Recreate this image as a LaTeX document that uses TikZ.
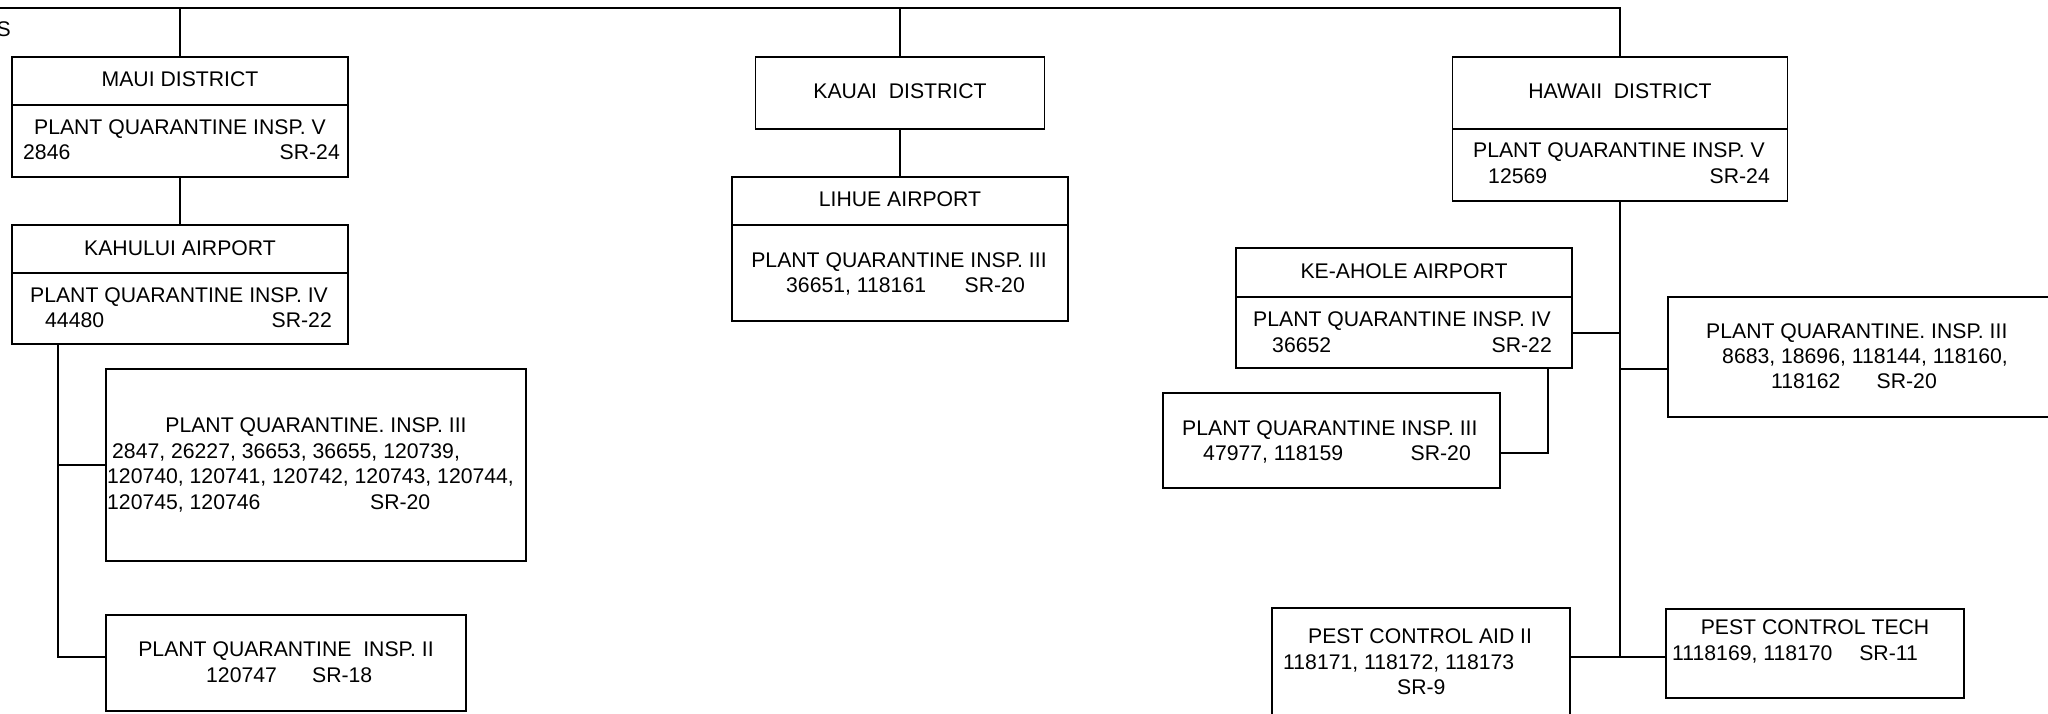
\documentclass[tikz,border=0pt]{standalone}
\usepackage{fontspec}
\setmainfont{Liberation Sans}
\begin{document}
\begin{tikzpicture}[x=1pt,y=-1pt,
  ln/.style={line width=1.8pt},
  rbox/.style={draw, line width=1.8pt, rectangle, inner sep=0pt},
  txt/.style={inner sep=0pt, font=\fontsize{21.2}{25.5}\selectfont}]
\useasboundingbox (0,0) rectangle (2048,714);
\clip (0,0) rectangle (2048,714);

% ---- boxes ----
\node[rbox, minimum width=336, minimum height=48] (mauiH) at (180,81) {};
\node[rbox, minimum width=336, minimum height=72] (mauiB) at (180,141) {};
\node[rbox, minimum width=336, minimum height=48] (kahH) at (180,249) {};
\node[rbox, minimum width=336, minimum height=71] (kahB) at (180,308.5) {};
\node[rbox, minimum width=420, minimum height=192] (pqm3) at (316,465) {};
\node[rbox, minimum width=360, minimum height=96] (pqm2) at (286,663) {};

\node[rbox, minimum width=289, minimum height=72] (kauai) at (900,93) {};
\node[rbox, minimum width=336, minimum height=48] (lihH) at (900,201) {};
\node[rbox, minimum width=336, minimum height=96] (lihB) at (900,273) {};

\node[rbox, minimum width=335, minimum height=72] (hawH) at (1620,93) {};
\node[rbox, minimum width=335, minimum height=72] (hawB) at (1620,165) {};
\node[rbox, minimum width=336, minimum height=49] (keH) at (1404,272.5) {};
\node[rbox, minimum width=336, minimum height=71] (keB) at (1404,332.5) {};
\node[rbox, minimum width=337, minimum height=95] (pqh3) at (1331.5,440.5) {};
\node[rbox, minimum width=402, minimum height=120] (pqr3) at (1869,357) {};
\node[rbox, minimum width=298, minimum height=132] (pcaid) at (1421,674) {};
\node[rbox, minimum width=298, minimum height=89] (pctech) at (1815,653.5) {};

% ---- connectors ----
\coordinate (tl) at (-20,8);
\draw[ln] (tl) -| (hawH.north);
\draw[ln] (mauiH.north |- tl) -- (mauiH.north);
\draw[ln] (kauai.north |- tl) -- (kauai.north);
\draw[ln] (mauiB.south) -- (kahH.north);
\draw[ln] (kauai.south) -- (lihH.north);

\coordinate (kb) at (58,344);
\coordinate (k2) at (106,657);
\draw[ln] (kb) |- (pqm3.west);
\draw[ln] (kb) |- (k2);

\coordinate (hb) at (1620,657);
\draw[ln] (hawB.south) -- (hb);
\coordinate (ke) at (1572,333);
\draw[ln] (ke) -- (ke -| hb);
\coordinate (r3) at (1668,369);
\draw[ln] (r3 -| hb) -- (r3);
\coordinate (kb2) at (1548,368);
\coordinate (h3) at (1500,453);
\draw[ln] (kb2) |- (h3);
\coordinate (pa) at (1570,657);
\coordinate (pt) at (1666,657);
\draw[ln] (pa) -- (pt);

% ---- texts ----
\node[txt, anchor=base east] (s) at (11,37) {S};

\node[txt, anchor=base] (t1) at (180,87) {MAUI DISTRICT};
\node[txt, anchor=base] (t2) at (180,135) {PLANT QUARANTINE INSP. V};
\node[txt, anchor=base west] (t3) at (23,160) {2846};
\node[txt, anchor=base east] (t4) at (340,160) {SR-24};

\node[txt, anchor=base] (t5) at (180,255) {KAHULUI AIRPORT};
\node[txt, anchor=base] (t6) at (179,302) {PLANT QUARANTINE INSP. IV};
\node[txt, anchor=base west] (t7) at (45,327) {44480};
\node[txt, anchor=base east] (t8) at (332,327) {SR-22};

\node[txt, anchor=base] (t9) at (316,432) {PLANT QUARANTINE. INSP. III};
\node[txt, anchor=base west] (t10) at (112,458) {2847, 26227, 36653, 36655, 120739,};
\node[txt, anchor=base west] (t11) at (107,483) {120740, 120741, 120742, 120743, 120744,};
\node[txt, anchor=base west] (t12) at (107,509) {120745, 120746};
\node[txt, anchor=base west] (t13) at (370,509) {SR-20};

\node[txt, anchor=base] (t14) at (286,656) {PLANT QUARANTINE\ \ INSP. II};
\node[txt, anchor=base west] (t15) at (206,682) {120747};
\node[txt, anchor=base west] (t16) at (312,682) {SR-18};

\node[txt, anchor=base] (t17) at (900,99) {KAUAI\ \ DISTRICT};
\node[txt, anchor=base] (t18) at (900,207) {LIHUE AIRPORT};
\node[txt, anchor=base] (t19) at (899,267) {PLANT QUARANTINE INSP. III};
\node[txt, anchor=base west] (t20) at (786,292) {36651, 118161};
\node[txt, anchor=base east] (t21) at (1025,292) {SR-20};

\node[txt, anchor=base] (t22) at (1620,99) {HAWAII\ \ DISTRICT};
\node[txt, anchor=base] (t23) at (1619,158) {PLANT QUARANTINE INSP. V};
\node[txt, anchor=base west] (t24) at (1488,184) {12569};
\node[txt, anchor=base east] (t25) at (1770,184) {SR-24};

\node[txt, anchor=base] (t26) at (1404,278) {KE-AHOLE AIRPORT};
\node[txt, anchor=base west] (t27) at (1253,326) {PLANT QUARANTINE INSP. IV};
\node[txt, anchor=base west] (t28) at (1272,352) {36652};
\node[txt, anchor=base east] (t29) at (1552,352) {SR-22};

\node[txt, anchor=base west] (t30) at (1182,435) {PLANT QUARANTINE INSP. III};
\node[txt, anchor=base west] (t31) at (1203,460) {47977, 118159};
\node[txt, anchor=base east] (t32) at (1471,460) {SR-20};

\node[txt, anchor=base west] (t33) at (1706,338) {PLANT QUARANTINE. INSP. III};
\node[txt, anchor=base west] (t34) at (1722,363) {8683, 18696, 118144, 118160,};
\node[txt, anchor=base west] (t35) at (1771,388) {118162};
\node[txt, anchor=base east] (t36) at (1937,388) {SR-20};

\node[txt, anchor=base west] (t37) at (1308,643) {PEST CONTROL AID II};
\node[txt, anchor=base west] (t38) at (1283,669) {118171, 118172, 118173};
\node[txt, anchor=base west] (t39) at (1397,694) {SR-9};

\node[txt, anchor=base] (t40) at (1815,634) {PEST CONTROL TECH};
\node[txt, anchor=base west] (t41) at (1672,660) {1118169, 118170};
\node[txt, anchor=base east] (t42) at (1918,660) {SR-11};
\end{tikzpicture}
\end{document}
